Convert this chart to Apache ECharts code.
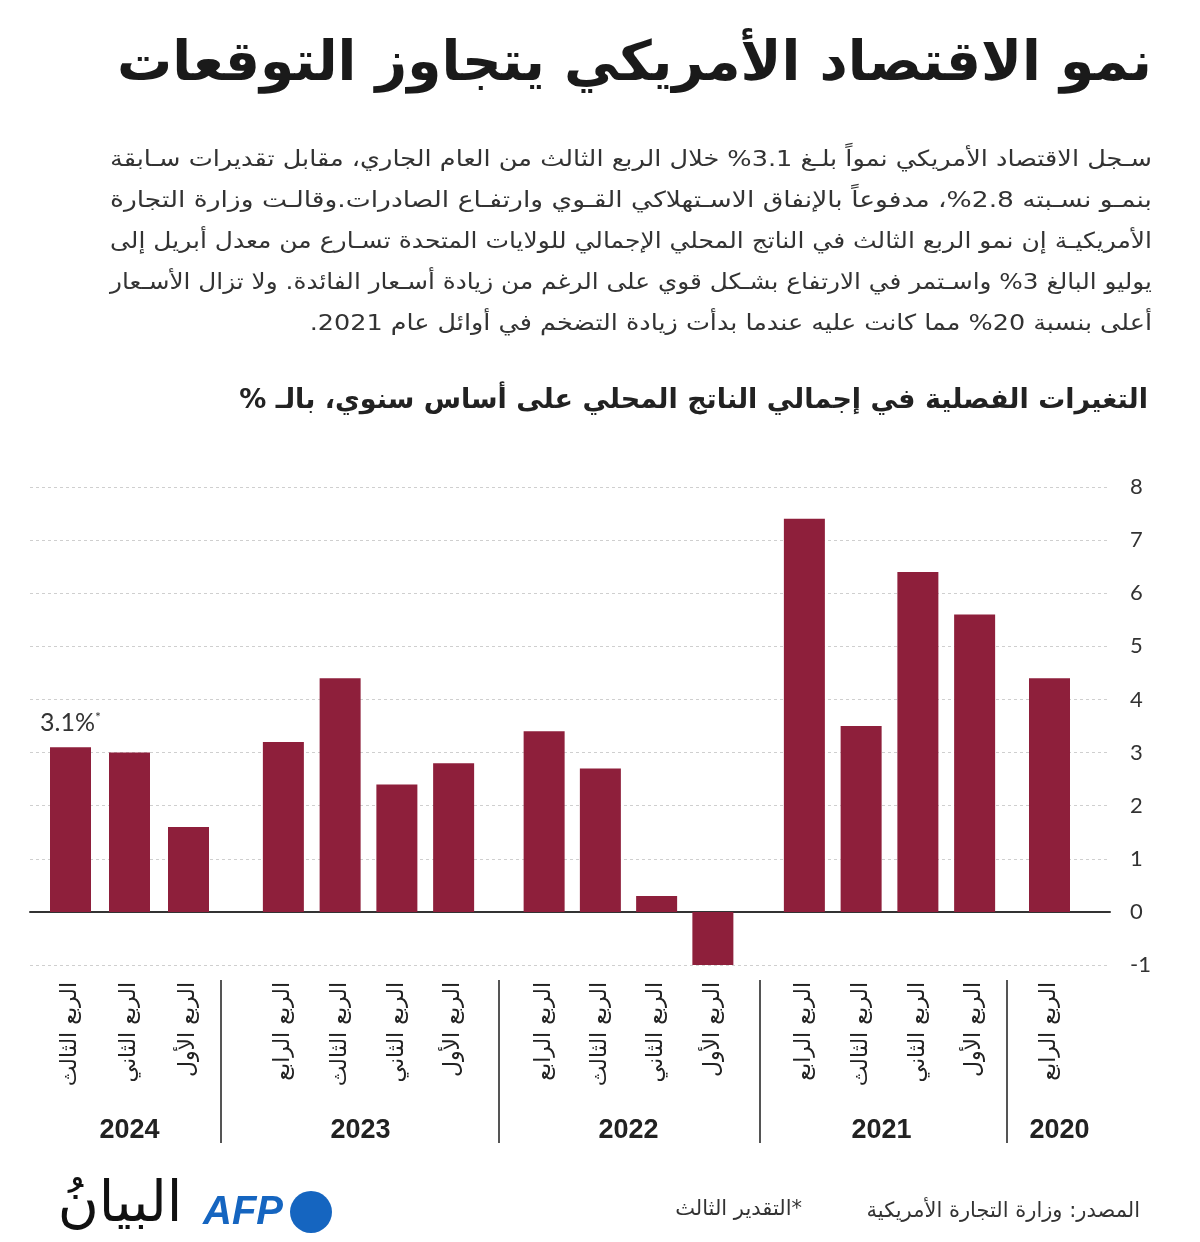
<!DOCTYPE html>
<html>
<head>
<meta charset="utf-8">
<script src="https://cdn.jsdelivr.net/npm/echarts@6/dist/echarts.min.js"></script>
<style>
html,body{margin:0;padding:0;background:#fff;}
#chart{width:1200px;height:1242px;}
</style>
</head>
<body>
<div id="chart"></div>
<script>
// ---------- DATA ----------
const years = ['2024', '2023', '2022', '2021', '2020'];
const quarters2024 = ['الربع الأول', 'الربع الثاني', 'الربع الثالث'];
const quarters2023 = ['الربع الأول', 'الربع الثاني', 'الربع الثالث', 'الربع الرابع'];
const quarters2022 = ['الربع الأول', 'الربع الثاني', 'الربع الثالث', 'الربع الرابع'];
const quarters2021 = ['الربع الأول', 'الربع الثاني', 'الربع الثالث', 'الربع الرابع'];
const quarters2020 = ['الربع الرابع'];
const gdp2024 = [1.6, 3.0, 3.1];
const gdp2023 = [2.8, 2.4, 4.4, 3.2];
const gdp2022 = [-1.0, 0.3, 2.7, 3.4];
const gdp2021 = [5.6, 6.4, 3.5, 7.4];
const gdp2020 = [4.4];
const yMin = -1, yMax = 8, yStep = 1;

const titleText = 'نمو الاقتصاد الأمريكي يتجاوز التوقعات';
const introLines = [
  'سـجل الاقتصاد الأمريكي نمواً بلـغ 3.1% خلال الربع الثالث من العام الجاري، مقابل تقديرات سـابقة',
  'بنمـو نسـبته 2.8%، مدفوعاً بالإنفاق الاسـتهلاكي القـوي وارتفـاع الصادرات.وقالـت وزارة التجارة',
  'الأمريكيـة إن نمو الربع الثالث في الناتج المحلي الإجمالي للولايات المتحدة تسـارع من معدل أبريل إلى',
  'يوليو البالغ 3% واسـتمر في الارتفاع بشـكل قوي على الرغم من زيادة أسـعار الفائدة. ولا تزال الأسـعار',
  'أعلى بنسبة 20% مما كانت عليه عندما بدأت زيادة التضخم في أوائل عام 2021.'
];
const subtitleText = 'التغيرات الفصلية في إجمالي الناتج المحلي على أساس سنوي، بالـ %';
const sourceText = 'المصدر: وزارة التجارة الأمريكية';
const noteText = '*التقدير الثالث';
const estimateMark = '*';

// ---------- LAYOUT ----------
const AR = '"DejaVu Sans", "Noto Sans", sans-serif';
const rtl = s => '\u202B' + s + '\u202C';
const BAR = '#8e1f3b';
const plotTop = 487, plotBottom = 1242 - 965;
const groups = [
  { year: years[0], cats: quarters2024, vals: gdp2024, left: 41, width: 177, namePad: [0, 0, 0, 0] },
  { year: years[1], cats: quarters2023, vals: gdp2023, left: 255, width: 227, namePad: [0, 16, 0, 0] },
  { year: years[2], cats: quarters2022, vals: gdp2022, left: 516, width: 225, namePad: [0, 0, 0, 0] },
  { year: years[3], cats: quarters2021, vals: gdp2021, left: 776, width: 227, namePad: [0, 16, 0, 0] },
  { year: years[4], cats: quarters2020, vals: gdp2020, left: 1021, width: 57, namePad: [0, 0, 0, 20] }
];
const separatorX = [221, 499, 760, 1007];

const grid = [{ left: 30, right: 90, top: plotTop, bottom: plotBottom, containLabel: false, outerBoundsMode: 'none' }];
const xAxis = [{
  gridIndex: 0, type: 'category', data: [''],
  axisLine: { show: true, onZero: true, lineStyle: { color: '#333', width: 2 } },
  axisTick: { show: false }, axisLabel: { show: false }, splitLine: { show: false }
}];
const yAxis = [{
  gridIndex: 0, type: 'value', position: 'right', min: yMin, max: yMax, interval: yStep,
  axisLine: { show: false }, axisTick: { show: false },
  axisLabel: { margin: 20, color: '#333', fontSize: 22, fontFamily: 'Lato, "Open Sans", sans-serif' },
  splitLine: { show: true, lineStyle: { color: '#cfcfcf', type: [3, 3], width: 1 } }
}];
const series = [];

groups.forEach((g, i) => {
  const gi = i + 1;
  grid.push({ left: g.left, width: g.width, top: plotTop, bottom: plotBottom, containLabel: false, outerBoundsMode: 'none' });
  xAxis.push({
    gridIndex: gi, type: 'category', inverse: true, data: g.cats.map(rtl),
    axisLine: { show: false }, axisTick: { show: false }, splitLine: { show: false },
    axisLabel: { rotate: 90, margin: 17, color: '#222', fontSize: 22, fontFamily: AR, interval: 0 },
    name: g.year, nameLocation: 'middle', nameGap: 152,
    nameTextStyle: { color: '#222', fontSize: 27, fontWeight: 'bold', fontFamily: '"Liberation Sans", Arial, sans-serif', padding: g.namePad }
  });
  yAxis.push({
    gridIndex: gi, type: 'value', min: yMin, max: yMax, interval: yStep, show: false
  });
  const data = g.vals.map((v, k) => {
    if (i === 0 && k === g.vals.length - 1) {
      return {
        value: v,
        label: {
          show: true, position: 'top', distance: 12,
          formatter: p => '{v|' + p.value.toFixed(1) + '%}{s|' + estimateMark + '}',
          rich: {
            v: { fontSize: 25, color: '#333', fontFamily: 'Lato, "Open Sans", sans-serif' },
            s: { fontSize: 14, color: '#333', verticalAlign: 'top', padding: [0, 0, 10, 0], fontFamily: 'Lato, sans-serif' }
          }
        }
      };
    }
    return v;
  });
  series.push({
    type: 'bar', xAxisIndex: gi, yAxisIndex: gi, data: data, barWidth: 41,
    itemStyle: { color: BAR }, silent: true, animation: false
  });
});

// text measuring for justified paragraph
const mctx = document.createElement('canvas').getContext('2d');
function textWidth(t, font) { mctx.font = font; return mctx.measureText(t).width; }

const graphic = [];
graphic.push({
  type: 'text', x: 1152, y: 66,
  style: { text: rtl(titleText), align: 'right', verticalAlign: 'middle', font: 'bold 55px ' + AR, fill: '#1a1a1a' }
});
const paraFont = '22px ' + AR;
const paraRight = 1152, paraLeft = 110;
const scales = introLines.map(t => (paraRight - paraLeft) / textWidth(rtl(t), paraFont));
const lastScale = scales.slice(0, -1).reduce((a, b) => a + b, 0) / (scales.length - 1);
introLines.forEach((t, i) => {
  const s = i === introLines.length - 1 ? lastScale : scales[i];
  graphic.push({
    type: 'text', x: paraRight, y: 160 + i * 41, scaleX: s,
    style: { text: rtl(t), align: 'right', verticalAlign: 'middle', font: paraFont, fill: '#333' }
  });
});
graphic.push({
  type: 'text', x: 1148, y: 401,
  style: { text: rtl(subtitleText), align: 'right', verticalAlign: 'middle', font: 'bold 27px ' + AR, fill: '#222' }
});
separatorX.forEach(x => {
  graphic.push({ type: 'line', shape: { x1: x, y1: 980, x2: x, y2: 1143 }, style: { stroke: '#555', lineWidth: 2 } });
});
graphic.push({
  type: 'text', x: 1140, y: 1212,
  style: { text: rtl(sourceText), align: 'right', verticalAlign: 'middle', font: '21px ' + AR, fill: '#333' }
});
graphic.push({
  type: 'text', x: 802, y: 1210,
  style: { text: rtl(noteText), align: 'right', verticalAlign: 'middle', font: '21px ' + AR, fill: '#333' }
});
// logos
graphic.push({
  type: 'text', x: 203, y: 1213,
  style: { text: 'AFP', align: 'left', verticalAlign: 'middle', font: 'italic bold 40px "Liberation Sans", Arial, sans-serif', fill: '#1565c0' }
});
graphic.push({ type: 'circle', shape: { cx: 311, cy: 1212, r: 21 }, style: { fill: '#1565c0' } });
graphic.push({
  type: 'text', x: 120, y: 1206,
  style: { text: rtl('البيانُ'), align: 'center', verticalAlign: 'middle', font: '56px ' + AR, fill: '#111' }
});

const chart = echarts.init(document.getElementById('chart'), null, { renderer: 'canvas' });
chart.setOption({
  backgroundColor: '#fff',
  animation: false,
  grid: grid, xAxis: xAxis, yAxis: yAxis, series: series, graphic: graphic
});
</script>
</body>
</html>
